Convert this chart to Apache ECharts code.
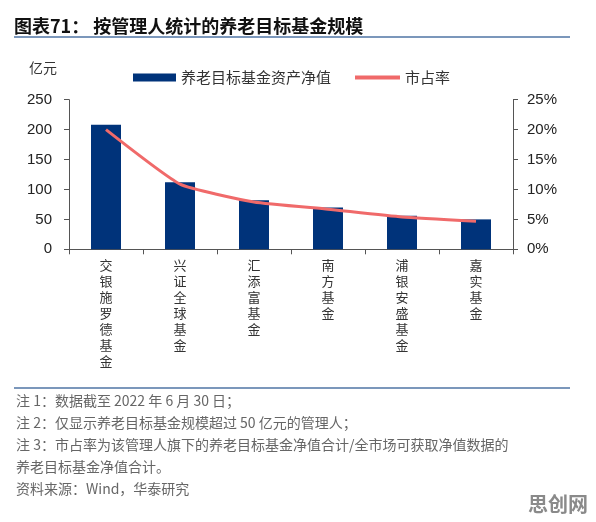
<!DOCTYPE html>
<html>
<head>
<meta charset="utf-8">
<script src="https://cdn.jsdelivr.net/npm/echarts@6/dist/echarts.min.js"></script>
<style>
html,body{margin:0;padding:0;background:#fff;}
#c{width:596px;height:522px;}
</style>
</head>
<body>
<div id="c"></div>
<script>
var categories = ['交银施罗德基金', '兴证全球基金', '汇添富基金', '南方基金', '浦银安盛基金', '嘉实基金'];
var navValues = [208, 112, 82, 70, 56, 50];
var shareValues = [0.200, 0.109, 0.079, 0.067, 0.054, 0.047];
var leftTicks = { min: 0, max: 250, interval: 50 };
var rightTicks = { min: 0, max: 0.25, interval: 0.05 };
var barName = '养老目标基金资产净值';
var lineName = '市占率';
var titleText = '图表71： 按管理人统计的养老目标基金规模';
var unitText = '亿元';
var notes = [
  '注 1：数据截至 2022 年 6 月 30 日；',
  '注 2：仅显示养老目标基金规模超过 50 亿元的管理人；',
  '注 3：市占率为该管理人旗下的养老目标基金净值合计/全市场可获取净值数据的',
  '养老目标基金净值合计。',
  '资料来源：Wind，华泰研究'
];
var watermark = '思创网';

var CJK = '"Noto Sans CJK SC", "Liberation Sans", sans-serif';
var NUM = '"Liberation Sans", Arial, sans-serif';
var axisColor = '#555';

var chart = echarts.init(document.getElementById('c'));

var noteGraphics = notes.map(function (t, i) {
  return {
    type: 'text', left: 16, top: [403, 425, 447, 469, 491][i] - 9,
    style: { text: t, font: '14px ' + CJK, fill: '#666' }
  };
});

chart.setOption({
  animation: false,
  backgroundColor: '#fff',
  grid: { left: 69, right: 83, top: 99.7, bottom: 272.7, containLabel: false },
  legend: [
    {
      data: [{ name: barName, icon: 'rect' }],
      left: 128, top: 65, itemWidth: 43, itemHeight: 8, itemGap: 0,
      textStyle: { fontSize: 15, fontFamily: CJK, color: '#333' }
    },
    {
      data: [{ name: lineName, icon: 'rect' }],
      left: 350, top: 65, itemWidth: 45, itemHeight: 4, itemGap: 0,
      textStyle: { fontSize: 15, fontFamily: CJK, color: '#333' }
    }
  ],
  xAxis: {
    type: 'category',
    data: categories,
    axisLine: { lineStyle: { color: axisColor, width: 1 } },
    axisTick: { show: true, length: 5, alignWithLabel: false, lineStyle: { color: axisColor } },
    axisLabel: {
      interval: 0, margin: 8,
      fontSize: 13, lineHeight: 16, fontFamily: CJK, color: '#333',
      formatter: function (v) { return v.split('').join('\n'); }
    }
  },
  yAxis: [
    {
      type: 'value', min: leftTicks.min, max: leftTicks.max, interval: leftTicks.interval,
      axisLine: { show: true, lineStyle: { color: axisColor } },
      axisTick: { show: true, length: 5, lineStyle: { color: axisColor } },
      splitLine: { show: false },
      axisLabel: { fontSize: 15, fontFamily: NUM, color: '#222', margin: 17 }
    },
    {
      type: 'value', min: rightTicks.min, max: rightTicks.max, interval: rightTicks.interval,
      position: 'right',
      axisLine: { show: true, lineStyle: { color: axisColor } },
      axisTick: { show: true, length: 5, lineStyle: { color: axisColor } },
      splitLine: { show: false },
      axisLabel: {
        fontSize: 15, fontFamily: NUM, color: '#222', margin: 14,
        formatter: function (v) { return Math.round(v * 100) + '%'; }
      }
    }
  ],
  series: [
    {
      name: barName, type: 'bar', data: navValues, barWidth: 30,
      itemStyle: { color: '#00337a' }
    },
    {
      name: lineName, type: 'line', yAxisIndex: 1, data: shareValues,
      smooth: 0.15, showSymbol: false, symbol: 'none',
      lineStyle: { color: '#f06a6a', width: 3 },
      itemStyle: { color: '#f06a6a' }
    }
  ],
  graphic: [
    { type: 'text', left: 14, top: 17, style: { text: titleText, font: 'bold 18px ' + CJK, fill: '#111' } },
    { type: 'line', shape: { x1: 14, y1: 37, x2: 570, y2: 37 }, style: { stroke: '#7b97bb', lineWidth: 2 } },
    { type: 'text', left: 29, top: 61, style: { text: unitText, font: '14px ' + CJK, fill: '#333' } },
    { type: 'line', shape: { x1: 14, y1: 388, x2: 570, y2: 388 }, style: { stroke: '#7b97bb', lineWidth: 2 } },
    { type: 'text', left: 528, top: 494, style: { text: watermark, font: 'bold 20px ' + CJK, fill: '#8a8a8a' } }
  ].concat(noteGraphics)
});
</script>
</body>
</html>
